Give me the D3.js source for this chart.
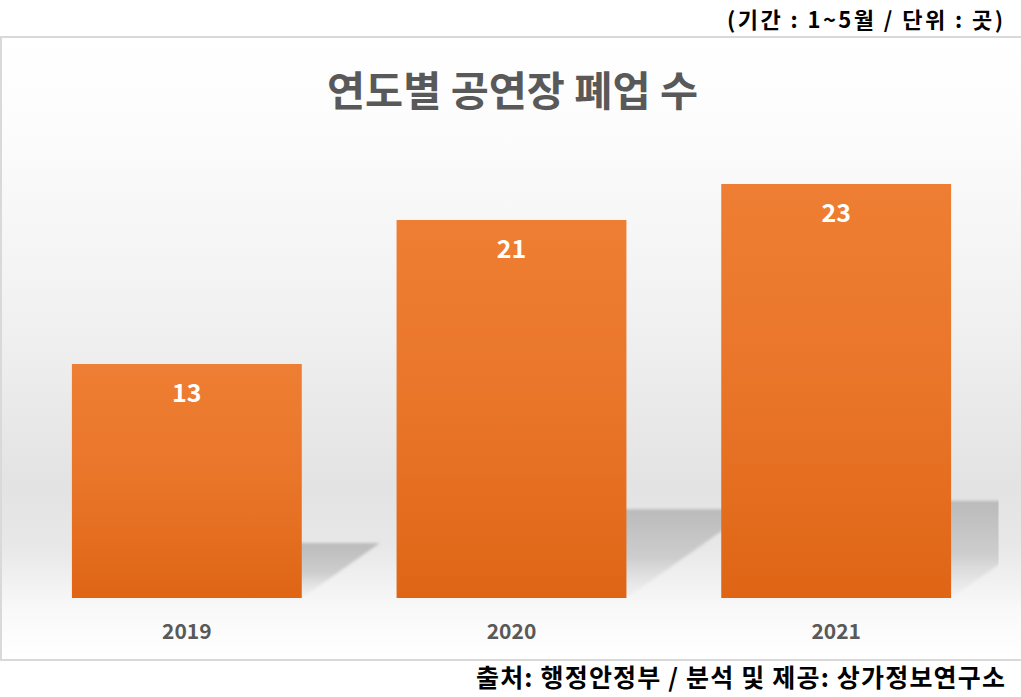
<!DOCTYPE html>
<html>
<head>
<meta charset="utf-8">
<script src="https://cdn.jsdelivr.net/npm/d3@7"></script>
<style>
  body { margin: 0; background: #fff; }
  svg { display: block; font-family: "Noto Sans CJK KR", "Noto Sans", sans-serif; }
</style>
</head>
<body>
<svg id="chart" width="1021" height="697"></svg>
<script>
  var years = ["2019", "2020", "2021"];
  var counts = [13, 21, 23];
  var title = "연도별 공연장 폐업 수";
  var note = "(기간 : 1~5월 / 단위 : 곳)";
  var source = "출처: 행정안정부 / 분석 및 제공: 상가정보연구소";

  var W = 1021, H = 697;
  var plot = {left: 24.5, right: 998.5, top: 148, bottom: 598};

  var svg = d3.select("#chart");
  var defs = svg.append("defs");

  // chart background: white top, grey band, white near the axis
  var bg = defs.append("linearGradient").attr("id", "bg")
    .attr("x1", 0).attr("y1", 0).attr("x2", 0).attr("y2", 1);
  [[0, "#ffffff"], [0.15, "#fcfcfc"], [0.45, "#f1f1f1"], [0.72, "#e3e3e3"],
   [0.82, "#e8e8e8"], [0.92, "#f9f9f9"], [1, "#ffffff"]].forEach(function(s) {
    bg.append("stop").attr("offset", s[0]).attr("stop-color", s[1]);
  });

  var barGrad = defs.append("linearGradient").attr("id", "bar")
    .attr("x1", 0).attr("y1", 0).attr("x2", 0).attr("y2", 1);
  barGrad.append("stop").attr("offset", 0).attr("stop-color", "#ee7e33");
  barGrad.append("stop").attr("offset", 0.5).attr("stop-color", "#e97529");
  barGrad.append("stop").attr("offset", 1).attr("stop-color", "#df6515");

  var shGrad = defs.append("linearGradient").attr("id", "shadow")
    .attr("x1", 0).attr("y1", 1).attr("x2", 0).attr("y2", 0);
  shGrad.append("stop").attr("offset", 0).attr("stop-color", "#e4e4e4").attr("stop-opacity", 0.2);
  shGrad.append("stop").attr("offset", 0.45).attr("stop-color", "#c8c8c8").attr("stop-opacity", 0.85);
  shGrad.append("stop").attr("offset", 1).attr("stop-color", "#bababa").attr("stop-opacity", 1);

  defs.append("filter").attr("id", "blur")
    .attr("x", "-20%").attr("y", "-20%").attr("width", "140%").attr("height", "140%")
    .append("feGaussianBlur").attr("stdDeviation", 1.8);

  defs.append("clipPath").attr("id", "plotclip")
    .append("rect")
    .attr("x", plot.left).attr("y", 0)
    .attr("width", plot.right - plot.left).attr("height", plot.bottom);

  // frame
  svg.append("rect")
    .attr("x", 1).attr("y", 37).attr("width", W + 10).attr("height", 623)
    .attr("fill", "url(#bg)")
    .attr("stroke", "#d9d9d9").attr("stroke-width", 2);

  var x = d3.scaleBand().domain(years)
    .range([plot.left, plot.right])
    .paddingInner(0.292).paddingOuter(0.146);
  var y = d3.scaleLinear().domain([0, 25]).range([plot.bottom, plot.top]);

  var data = years.map(function(d, i) { return {year: d, value: counts[i]}; });

  // perspective shadows behind the bars
  svg.append("g").attr("clip-path", "url(#plotclip)")
    .selectAll("path").data(data).enter().append("path")
    .attr("fill", "url(#shadow)")
    .attr("filter", "url(#blur)")
    .attr("d", function(d) {
      var h = (y(0) - y(d.value)) * 0.235;
      var dx = h * 1.42;
      var x0 = x(d.year), x1 = x0 + x.bandwidth(), b = y(0);
      return "M" + x0 + "," + b + "L" + x1 + "," + b +
        "L" + (x1 + dx) + "," + (b - h) + "L" + (x0 + dx) + "," + (b - h) + "Z";
    });

  var bars = svg.append("g").selectAll("g").data(data).enter().append("g");

  bars.append("rect")
    .attr("x", function(d) { return x(d.year); })
    .attr("y", function(d) { return y(d.value); })
    .attr("width", x.bandwidth())
    .attr("height", function(d) { return y(0) - y(d.value); })
    .attr("fill", "url(#bar)");

  bars.append("text")
    .attr("x", function(d) { return x(d.year) + x.bandwidth() / 2; })
    .attr("y", function(d) { return y(d.value) + 38; })
    .attr("text-anchor", "middle")
    .attr("fill", "#ffffff")
    .attr("font-size", 25).attr("font-weight", "bold")
    .text(function(d) { return d.value; });

  // category labels
  svg.append("g").selectAll("text").data(years).enter().append("text")
    .attr("x", function(d) { return x(d) + x.bandwidth() / 2; })
    .attr("y", 639)
    .attr("text-anchor", "middle")
    .attr("fill", "#595959")
    .attr("font-size", 21).attr("font-weight", "bold")
    .text(function(d) { return d; });

  svg.append("text")
    .attr("x", 327).attr("y", 106)
    .attr("fill", "#595959")
    .attr("font-size", 41).attr("font-weight", "bold")
    .attr("textLength", 371).attr("lengthAdjust", "spacingAndGlyphs")
    .text(title);

  svg.append("text")
    .attr("x", 727).attr("y", 28)
    .attr("fill", "#000")
    .attr("font-size", 22).attr("font-weight", "bold")
    .attr("textLength", 276).attr("lengthAdjust", "spacing")
    .text(note);

  svg.append("text")
    .attr("x", 476).attr("y", 687)
    .attr("fill", "#000")
    .attr("font-size", 25).attr("font-weight", "bold")
    .attr("textLength", 529).attr("lengthAdjust", "spacing")
    .text(source);
</script>
</body>
</html>
